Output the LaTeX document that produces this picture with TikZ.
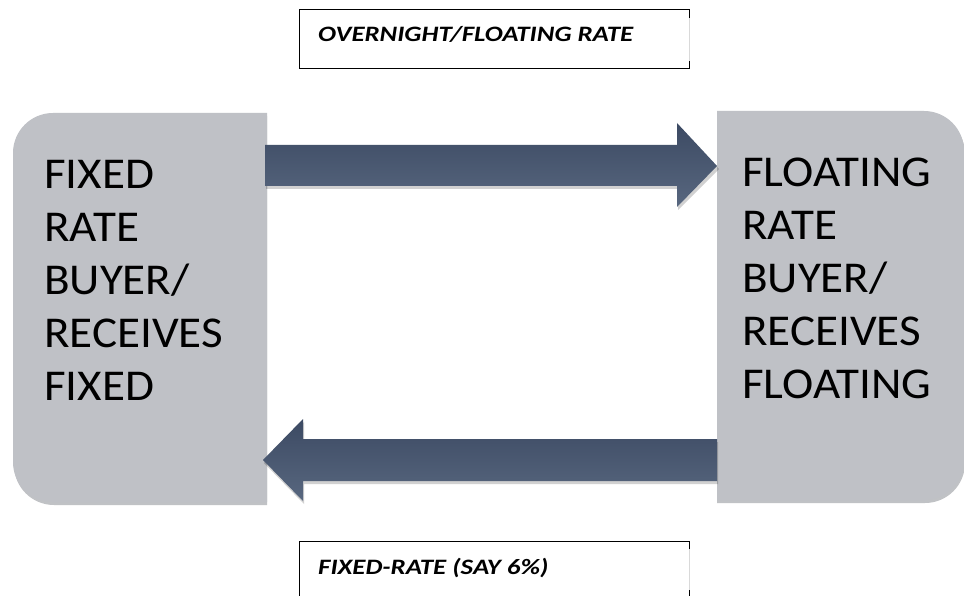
\documentclass[tikz,border=0pt]{standalone}
\usepackage{fontspec}
\setmainfont{Carlito}
\newfontfamily\partyfont[FakeStretch=1.07]{Carlito}
\newfontfamily\labelfont[FakeStretch=1.22]{Carlito}
\definecolor{boxgray}{HTML}{BFC1C6}
\definecolor{shadowgray}{HTML}{8E9096}
\definecolor{arrowtop}{HTML}{58677F}
\definecolor{arrowbot}{HTML}{3C4A63}
\begin{document}
\begin{tikzpicture}[x=1pt,y=-1pt,
  partybox/.style={fill=boxgray},
  partyshadow/.style={fill=shadowgray,opacity=0.55},
  partytext/.style={anchor=north west,inner sep=0pt,align=left,
    font=\partyfont\fontsize{44}{53}\selectfont,text=black},
  flowarrow/.style={top color=arrowbot,bottom color=arrowtop,draw=none},
  arrowshadow/.style={fill=black,opacity=0.18},
  labelline/.style={draw=black,line width=1pt},
  labelfaint/.style={draw=black!15,line width=1pt},
  labeltext/.style={anchor=base west,inner sep=0pt,
    font=\labelfont\fontsize{22}{26}\selectfont\bfseries\itshape}]
\useasboundingbox[fill=white] (0,0) rectangle (964,596);

% left party box (rounded on the left side only)
\begin{scope}
  \clip (0,0) rectangle (267,596);
  \path[rounded corners=40pt,partyshadow] (14,116) rectangle (330,505);
  \path[rounded corners=40pt,partybox] (13,113) rectangle (330,502);
\end{scope}
% right party box (rounded on the right side only)
\begin{scope}
  \clip (717,0) rectangle (964,596);
  \path[rounded corners=40pt,partyshadow] (650,114) rectangle (965,503);
  \path[rounded corners=40pt,partybox] (650,111) rectangle (964,500);
\end{scope}

\node[partytext] (fixed) at (44,160) {FIXED\\RATE\\BUYER/\\RECEIVES\\FIXED};
\node[partytext] (floating) at (742,158) {FLOATING\\RATE\\BUYER/\\RECEIVES\\FLOATING};

\coordinate (lefte) at (265,0);
\coordinate (righte) at (717,0);

% top arrow: fixed -> floating
\path[arrowshadow] (266,148) -- (678,148) -- (678,126) -- (719,169) -- (678,210)
  -- (678,189) -- (266,189) -- cycle;
\path[flowarrow] (lefte |- 0,145) -- (677,145) -- (677,123) -- (righte |- 0,166)
  -- (677,207) -- (677,186) -- (lefte |- 0,186) -- cycle;
% bottom arrow: floating -> fixed
\path[arrowshadow] (718,442) -- (304,442) -- (304,422) -- (264,463) -- (304,504)
  -- (304,484) -- (718,484) -- cycle;
\path[flowarrow] (righte |- 0,439) -- (303,439) -- (303,419) -- (263,460)
  -- (303,501) -- (303,481) -- (righte |- 0,481) -- cycle;

% top label box
\draw[labelfaint] (689,10) -- (689,69);
\draw[labelline] (689,18) -- (689,10) -- (299,10) -- (299,69) -- (689,69) -- (689,61);
\node[labeltext] (toplabel) at (318,42) {OVERNIGHT/FLOATING RATE};

% bottom label box
\draw[labelfaint] (689,541) -- (689,596);
\draw[labelline] (689,549) -- (689,541) -- (299,541) -- (299,596);
\draw[labelline] (689,590) -- (689,596);
\node[labeltext] (botlabel) at (318,574) {FIXED-RATE (SAY 6\%)};
\end{tikzpicture}
\end{document}
